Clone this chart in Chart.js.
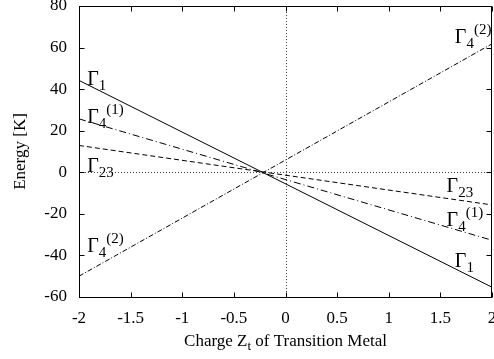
<!DOCTYPE html>
<html>
<head>
<meta charset="utf-8">
<script src="https://cdn.jsdelivr.net/npm/chart.js@4/dist/chart.umd.min.js"></script>
<style>
  body { margin: 0; background: #fff; }
  #wrap { width: 494px; height: 359px; position: relative; }
</style>
</head>
<body>
<div id="wrap"><canvas id="myChart" width="494" height="359"></canvas></div>
<script>
// charge of the transition metal (x) at both ends of each line
const charge = [-2, 2];
// energies [K] read at charge = -2 and charge = 2
const gamma1 = [44.2, -55.3];
const gamma4a = [25.7, -32.7];
const gamma23 = [12.9, -15.7];
const gamma4b = [-50, 61.8];

const xTicks = [-2, -1.5, -1, -0.5, 0, 0.5, 1, 1.5, 2];
const yTicks = [-60, -40, -20, 0, 20, 40, 60, 80];

const serif = '"Liberation Serif", "Times New Roman", serif';

// line labels: [x, y(baseline), subscript, superscript]
const lineLabels = [
    [-1.92, 42.1, "1", ""],
    [-1.92, 23.9, "4", "(1)"],
    [-1.92, 0.0, "23", ""],
    [-1.92, -38.5, "4", "(2)"],
    [1.64, 62.2, "4", "(2)"],
    [1.56, -9.6, "23", ""],
    [1.56, -25.9, "4", "(1)"],
    [1.64, -45.6, "1", ""],
];

const toPoints = (vals) => charge.map((x, i) => ({ x: x, y: vals[i] }));

const ctx = document.getElementById("myChart");

const gnuplotFrame = {
    id: "gnuplotFrame",
    beforeDatasetsDraw(chart) {
        const c = chart.ctx;
        const a = chart.chartArea;
        const xs = chart.scales.x;
        const ys = chart.scales.y;
        c.save();
        // dotted zero lines
        c.strokeStyle = "#444";
        c.lineWidth = 1;
        c.setLineDash([1, 2]);
        const x0 = Math.round(xs.getPixelForValue(0)) + 0.5;
        const y0 = Math.round(ys.getPixelForValue(0)) + 0.5;
        c.beginPath();
        c.moveTo(x0, a.top);
        c.lineTo(x0, a.bottom);
        c.moveTo(a.left, y0);
        c.lineTo(a.right, y0);
        c.stroke();
        c.restore();
    },
    afterDatasetsDraw(chart) {
        const c = chart.ctx;
        const a = chart.chartArea;
        const xs = chart.scales.x;
        const ys = chart.scales.y;
        c.save();
        c.strokeStyle = "#000";
        c.lineWidth = 1;
        c.setLineDash([]);
        const L = Math.round(a.left) + 0.5, R = Math.round(a.right) - 0.5;
        const T = Math.round(a.top) + 0.5, B = Math.round(a.bottom) + 0.5;
        c.strokeRect(L, T, R - L, B - T);
        const tl = 5;
        c.beginPath();
        xTicks.forEach(v => {
            const px = Math.round(xs.getPixelForValue(v)) + 0.5;
            c.moveTo(px, B); c.lineTo(px, B - tl);
            c.moveTo(px, T); c.lineTo(px, T + tl);
        });
        yTicks.forEach(v => {
            const py = Math.round(ys.getPixelForValue(v)) + 0.5;
            c.moveTo(L, py); c.lineTo(L + tl, py);
            c.moveTo(R, py); c.lineTo(R - tl, py);
        });
        c.stroke();

        // Gamma labels
        c.fillStyle = "#000";
        c.textBaseline = "alphabetic";
        c.textAlign = "left";
        lineLabels.forEach(([lx, ly, sub, sup]) => {
            let px = xs.getPixelForValue(lx);
            const py = ys.getPixelForValue(ly);
            c.font = "20px " + serif;
            c.fillText("\u0393", px, py);
            px += c.measureText("\u0393").width;
            c.font = "15px " + serif;
            c.fillText(sub, px, py + 5);
            px += c.measureText(sub).width;
            if (sup) c.fillText(sup, px, py - 9);
        });

        // axis titles
        c.font = "17px " + serif;
        const p1 = "Charge Z", p3 = " of Transition Metal";
        const w1 = c.measureText(p1).width, w3 = c.measureText(p3).width;
        c.font = "13px " + serif;
        const w2 = c.measureText("t").width;
        let tx = (a.left + a.right) / 2 - (w1 + w2 + w3) / 2;
        const ty = 346;
        c.font = "17px " + serif;
        c.fillText(p1, tx, ty);
        c.font = "13px " + serif;
        c.fillText("t", tx + w1, ty + 4);
        c.font = "17px " + serif;
        c.fillText(p3, tx + w1 + w2, ty);

        c.translate(21, (a.top + a.bottom) / 2);
        c.rotate(-Math.PI / 2);
        c.textAlign = "center";
        c.textBaseline = "middle";
        c.fillText("Energy [K]", 0, 0);
        c.restore();
    },
};

new Chart(ctx, {
    type: "line",
    data: {
        datasets: [
            { label: "Gamma1", data: toPoints(gamma1), borderDash: [] },
            { label: "Gamma4(1)", data: toPoints(gamma4a), borderDash: [7, 3, 1, 3] },
            { label: "Gamma23", data: toPoints(gamma23), borderDash: [5, 3] },
            { label: "Gamma4(2)", data: toPoints(gamma4b), borderDash: [5, 2, 1, 2] },
        ].map(d => Object.assign(d, {
            borderColor: "#000",
            borderWidth: 1,
            pointRadius: 0,
            fill: false,
            tension: 0,
        })),
    },
    plugins: [gnuplotFrame],
    options: {
        responsive: false,
        animation: false,
        devicePixelRatio: 1,
        layout: {
            autoPadding: false,
            padding: { top: 6, right: 2, left: 0, bottom: 0 },
        },
        plugins: {
            legend: { display: false },
            tooltip: { enabled: false },
        },
        scales: {
            x: {
                type: "linear",
                min: -2,
                max: 2,
                afterFit: s => { s.height = 62; s.paddingLeft = 0; s.paddingRight = 0; },
                afterBuildTicks: s => { s.ticks = xTicks.map(v => ({ value: v })); },
                grid: { display: false },
                border: { display: false },
                ticks: {
                    color: "#000",
                    font: { family: serif, size: 17 },
                    padding: 3,
                    maxRotation: 0,
                    autoSkip: false,
                    callback: v => String(v),
                },
            },
            y: {
                min: -60,
                max: 80,
                afterFit: s => { s.width = 79; s.paddingTop = 0; s.paddingBottom = 0; },
                afterBuildTicks: s => { s.ticks = yTicks.map(v => ({ value: v })); },
                grid: { display: false },
                border: { display: false },
                ticks: {
                    color: "#000",
                    font: { family: serif, size: 17 },
                    padding: 4,
                    autoSkip: false,
                    callback: v => String(v),
                },
            },
        },
    },
});
</script>
</body>
</html>
